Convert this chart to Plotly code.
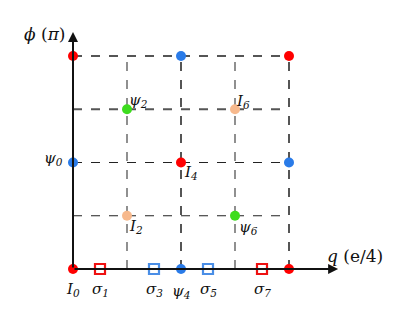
import plotly.graph_objects as go

# ---- data ----
q_circles = [0, 0, 0, 2, 4, 1, 3, 2, 4, 1, 3, 2, 4]
phi_circles = [0, 1, 2, 2, 2, 1.5, 1.5, 1, 1, 0.5, 0.5, 0, 0]
kind_circles = ["I", "psi", "I", "psi", "I", "psiodd", "Iodd", "I", "psi", "Iodd", "psiodd", "psi", "I"]
q_squares = [0.5, 1.5, 2.5, 3.5]
kind_squares = ["red", "blue", "blue", "red"]
sq_labels = ["σ<sub>1</sub>", "σ<sub>3</sub>", "σ<sub>5</sub>", "σ<sub>7</sub>"]
grid_q = [1, 2, 3, 4]
grid_phi = [0.5, 1, 1.5, 2]
pt_labels = [
    ("I<sub>0</sub>", 0, 0),
    ("ψ<sub>0</sub>", 0, 1),
    ("ψ<sub>2</sub>", 1, 1.5),
    ("I<sub>6</sub>", 3, 1.5),
    ("I<sub>4</sub>", 2, 1),
    ("I<sub>2</sub>", 1, 0.5),
    ("ψ<sub>6</sub>", 3, 0.5),
    ("ψ<sub>4</sub>", 2, 0),
]
xlabel = "<i>q</i> (e/4)"
ylabel = "<i>ϕ</i> (<i>π</i>)"

# ---- style ----
colors = {"I": "#ff0000", "psi": "#2a7be8", "psiodd": "#3ddc1e", "Iodd": "#f7b98d",
          "red": "#ee1111", "blue": "#4a8ee6"}
label_offsets = [(0, -20), (-20, 4), (11, 9), (8, 8), (10, -10), (9, -11), (13, -12), (0, -22)]

X0, Y0 = 65, 261      # origin pixel inside the figure
PX, PY = 54, 106.5    # pixels per unit

fig = go.Figure()

for gq in grid_q:
    fig.add_shape(type="line", x0=gq, x1=gq, y0=0, y1=2, xref="x", yref="y",
                  line=dict(color="#555555", width=2 if gq in (2, 4) else 1.3, dash="dash"), layer="below")
for gp in grid_phi:
    fig.add_shape(type="line", x0=0, x1=4, y0=gp, y1=gp, xref="x", yref="y",
                  line=dict(color="#555555" if gp in (1.5, 2) else "#222222",
                            width=2 if gp in (1.5, 2) else 1.2, dash="dash"), layer="below")

# axes arrows
fig.add_annotation(x=4.91, y=0, ax=0, ay=0, xref="x", yref="y", axref="x", ayref="y",
                   showarrow=True, arrowhead=2, arrowsize=1, arrowwidth=2, arrowcolor="#111111", text="")
fig.add_annotation(x=0, y=2.225, ax=0, ay=0, xref="x", yref="y", axref="x", ayref="y",
                   showarrow=True, arrowhead=2, arrowsize=1, arrowwidth=2, arrowcolor="#111111", text="")

fig.add_trace(go.Scatter(x=q_circles, y=phi_circles, mode="markers",
                         marker=dict(size=10, color=[colors[k] for k in kind_circles], line=dict(width=0)),
                         showlegend=False, hoverinfo="skip"))
fig.add_trace(go.Scatter(x=q_squares, y=[0] * len(q_squares), mode="markers",
                         marker=dict(size=10, symbol="square", color="white",
                                     line=dict(width=2.2, color=[colors[k] for k in kind_squares])),
                         showlegend=False, hoverinfo="skip"))

font = dict(family="DejaVu Serif", size=15, color="#111111")
for (t, x, y), (dx, dy) in zip(pt_labels, label_offsets):
    fig.add_annotation(x=x, y=y, text="<i>" + t + "</i>", showarrow=False, xshift=dx, yshift=dy, font=font)
for t, x in zip(sq_labels, q_squares):
    fig.add_annotation(x=x, y=0, text="<i>" + t + "</i>", showarrow=False, xshift=0, yshift=-20, font=font)

fig.add_annotation(x=0, y=2.225, text=ylabel, showarrow=False, xshift=-29, yshift=-2,
                   font=dict(family="DejaVu Serif", size=17, color="#111111"))
fig.add_annotation(x=4.91, y=0, text=xlabel, showarrow=False, xshift=17, yshift=13,
                   font=dict(family="DejaVu Serif", size=17, color="#111111"))

fig.update_layout(width=415, height=321, margin=dict(l=0, r=0, t=0, b=0),
                  paper_bgcolor="white", plot_bgcolor="white",
                  xaxis=dict(range=[-X0 / PX, (415 - X0) / PX], visible=False, fixedrange=True),
                  yaxis=dict(range=[-(321 - Y0) / PY, Y0 / PY], visible=False, fixedrange=True))

fig.write_html("out.html")
